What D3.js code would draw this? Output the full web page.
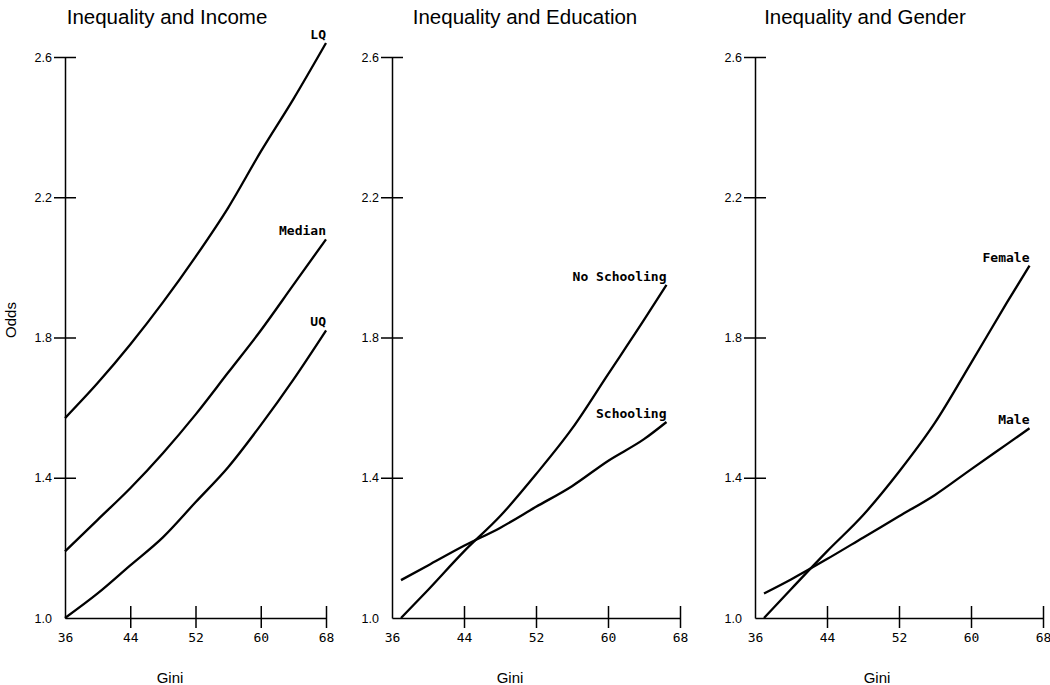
<!DOCTYPE html>
<html>
<head>
<meta charset="utf-8">
<script src="https://cdn.jsdelivr.net/npm/d3@7"></script>
<style>
  body { margin: 0; background: #fff; }
  svg { display: block; }
  .title { font-family: "Liberation Sans", Arial, sans-serif; font-size: 20.5px; }
  .axis-title { font-family: "Liberation Sans", Arial, sans-serif; font-size: 15px; }
  .y-axis text { font-family: "Liberation Sans", Arial, sans-serif; font-size: 12.5px; fill: #000; }
  .x-axis text { font-family: "DejaVu Sans Mono", monospace; font-size: 13px; fill: #000; }
  .line-label { font-family: "DejaVu Sans Mono", monospace; font-size: 13px; font-weight: bold; }
</style>
</head>
<body>
<div id="chart"></div>
<script>
// Data
const xTicks = [36, 44, 52, 60, 68]
const yTicks = [1.0, 1.4, 1.8, 2.2, 2.6]

const giniIncome = [36, 40, 44, 48, 52, 56, 60, 64, 68]
const lqOdds = [1.57, 1.67, 1.78, 1.90, 2.03, 2.17, 2.33, 2.48, 2.64]
const medianOdds = [1.19, 1.28, 1.37, 1.47, 1.58, 1.70, 1.82, 1.95, 2.08]
const uqOdds = [1.0, 1.07, 1.15, 1.23, 1.33, 1.43, 1.55, 1.68, 1.82]

const giniEducation = [37, 40, 44, 48, 52, 56, 60, 64, 66.5]
const noSchoolingOdds = [1.0, 1.08, 1.19, 1.29, 1.41, 1.54, 1.695, 1.85, 1.95]
const schoolingOdds = [1.108, 1.15, 1.206, 1.257, 1.317, 1.376, 1.448, 1.51, 1.559]

const giniGender = [37, 40, 44, 48, 52, 56, 60, 64, 66.5]
const femaleOdds = [1.0, 1.082, 1.19, 1.293, 1.417, 1.557, 1.727, 1.90, 2.005]
const maleOdds = [1.07, 1.11, 1.168, 1.229, 1.29, 1.351, 1.424, 1.496, 1.541]

const panels = [
    { title: 'Inequality and Income', left: 65, right: 326, titleX: 167, giniX: 170,
      x: giniIncome, series: [['LQ', lqOdds], ['Median', medianOdds], ['UQ', uqOdds]] },
    { title: 'Inequality and Education', left: 392, right: 680, titleX: 525, giniX: 510,
      x: giniEducation, series: [['No Schooling', noSchoolingOdds], ['Schooling', schoolingOdds]] },
    { title: 'Inequality and Gender', left: 755, right: 1043, titleX: 865, giniX: 877,
      x: giniGender, series: [['Female', femaleOdds], ['Male', maleOdds]] }
]

// SVG
const width = 1050
const height = 685
const plotTop = 57
const plotBottom = 618

const svg = d3.select('#chart').append('svg')
    .attr('width', width)
    .attr('height', height)

const y = d3.scaleLinear().domain([1.0, 2.6]).range([plotBottom, plotTop])

panels.forEach(p => {
    const x = d3.scaleLinear().domain([36, 68]).range([p.left, p.right])
    const g = svg.append('g')

    // Axes
    const yAxis = g.append('g')
        .attr('class', 'y-axis')
        .attr('transform', `translate(${p.left},0)`)
        .call(d3.axisLeft(y).tickValues(yTicks).tickSize(11).tickSizeOuter(0).tickPadding(2).tickFormat(d3.format('.1f')))
    yAxis.selectAll('.tick line').attr('x1', 11).attr('stroke-width', 1.5)
        .filter(d => d === 1.0).remove()
    yAxis.select('.domain').attr('stroke-width', 1.5)

    const xAxis = g.append('g')
        .attr('class', 'x-axis')
        .attr('transform', `translate(0,${plotBottom})`)
        .call(d3.axisBottom(x).tickValues(xTicks).tickSize(10).tickSizeOuter(0).tickPadding(5))
    xAxis.selectAll('.tick line').attr('y1', -12).attr('stroke-width', 1.5)
        .filter(d => d === 36).remove()
    xAxis.select('.domain').attr('stroke-width', 1.5)

    // Titles
    g.append('text')
        .attr('class', 'title')
        .attr('x', p.titleX)
        .attr('y', 24)
        .attr('text-anchor', 'middle')
        .text(p.title)

    g.append('text')
        .attr('class', 'axis-title')
        .attr('x', p.giniX)
        .attr('y', 683)
        .attr('text-anchor', 'middle')
        .text('Gini')

    // Lines
    const line = d3.line()
        .x((d, i) => x(p.x[i]))
        .y(d => y(d))
        .curve(d3.curveMonotoneX)

    p.series.forEach(([name, values]) => {
        g.append('path')
            .datum(values)
            .attr('fill', 'none')
            .attr('stroke', '#000')
            .attr('stroke-width', 2.3)
            .attr('d', line)

        const last = values.length - 1
        g.append('text')
            .attr('class', 'line-label')
            .attr('x', x(p.x[last]))
            .attr('y', y(values[last]) - 4)
            .attr('text-anchor', 'end')
            .text(name)
    })
})

svg.append('text')
    .attr('class', 'axis-title')
    .attr('transform', 'translate(16,320) rotate(-90)')
    .attr('text-anchor', 'middle')
    .text('Odds')
</script>
</body>
</html>
